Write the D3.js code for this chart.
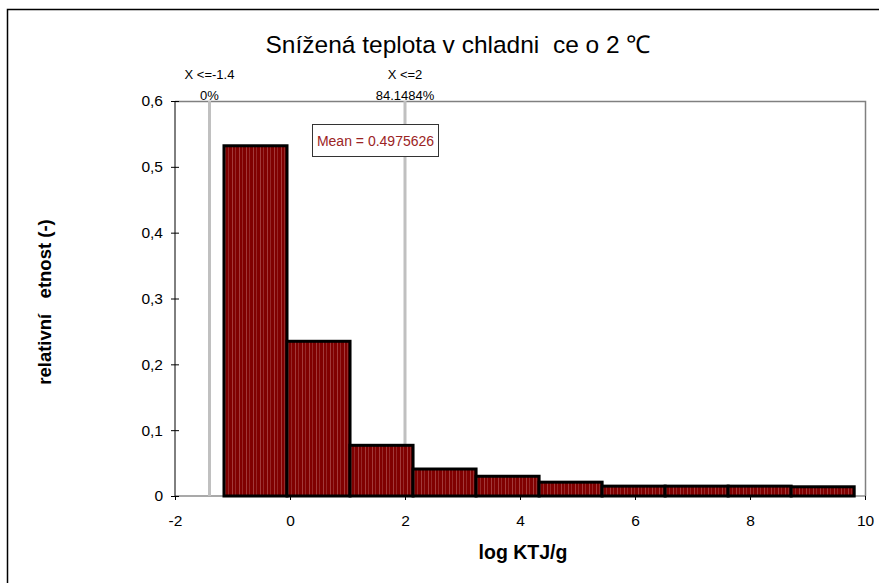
<!DOCTYPE html>
<html>
<head>
<meta charset="utf-8">
<script src="https://cdn.jsdelivr.net/npm/d3@7"></script>
<style>
  html, body { margin: 0; padding: 0; background: #fff; }
  svg { display: block; font-family: "Liberation Sans", Arial, sans-serif; }
  svg text { white-space: pre; }
</style>
</head>
<body>
<svg id="chart" width="879" height="583"></svg>
<script>
// Histogram bin edges (log KTJ/g) and relative frequencies
const binEdges = [-1.148, -0.052, 1.044, 2.14, 3.236, 4.332, 5.428, 6.524, 7.62, 8.716, 9.812];
const frequencies = [0.532, 0.235, 0.077, 0.041, 0.030, 0.021, 0.015, 0.015, 0.015, 0.014];
const xTicks = [-2, 0, 2, 4, 6, 8, 10];
const yTicks = [0, 0.1, 0.2, 0.3, 0.4, 0.5, 0.6];
// Delimiter markers with their cumulative-probability labels
const markerX = [-1.4, 2];
const markerTitle = ["X <=-1.4", "X <=2"];
const markerPct = ["0%", "84.1484%"];
const meanValue = 0.4975626;

const svg = d3.select("#chart");
const plot = { left: 175, right: 865, top: 101, bottom: 496 };

const x = d3.scaleLinear().domain([-2, 10]).range([plot.left, plot.right]);
const y = d3.scaleLinear().domain([0, 0.6]).range([plot.bottom, plot.top]);

// Vertical striped fill for the bars
const defs = svg.append("defs");
const pat = defs.append("pattern")
  .attr("id", "stripes").attr("patternUnits", "userSpaceOnUse")
  .attr("width", 7).attr("height", 10);
pat.append("rect").attr("width", 7).attr("height", 10).attr("fill", "#800000");
pat.append("rect").attr("x", 1).attr("width", 1).attr("height", 10).attr("fill", "#a23a3a");
pat.append("rect").attr("x", 4).attr("width", 1).attr("height", 10).attr("fill", "#952828");

// Outer chart frame
svg.append("rect")
  .attr("x", 7.5).attr("y", 9.5).attr("width", 900).attr("height", 600)
  .attr("fill", "none").attr("stroke", "#000").attr("stroke-width", 1.5);

// Plot area frame (top and right edges)
svg.append("path")
  .attr("d", `M${plot.left},${plot.top + 0.5}H${plot.right + 0.5}V${plot.bottom}`)
  .attr("fill", "none").attr("stroke", "#808080").attr("stroke-width", 1.5);

// Title
svg.append("text")
  .attr("x", 458).attr("y", 53)
  .attr("text-anchor", "middle")
  .attr("font-size", 24.5)
  .attr("fill", "#000")
  .text("Snížená teplota v chladni  ce o 2 ℃");

// Marker lines
markerX.forEach((m, i) => {
  svg.append("line")
    .attr("x1", x(m)).attr("x2", x(m))
    .attr("y1", plot.top).attr("y2", plot.bottom)
    .attr("stroke", "#c0c0c0").attr("stroke-width", 3);
  svg.append("text")
    .attr("x", x(m)).attr("y", 79)
    .attr("text-anchor", "middle").attr("font-size", 13)
    .text(markerTitle[i]);
  svg.append("text")
    .attr("x", x(m)).attr("y", 100)
    .attr("text-anchor", "middle").attr("font-size", 13)
    .text(markerPct[i]);
});

// Bars
const bins = frequencies.map((f, i) => ({ x0: binEdges[i], x1: binEdges[i + 1], v: f }));
svg.append("g").selectAll("rect")
  .data(bins).join("rect")
  .attr("x", d => x(d.x0))
  .attr("y", d => y(d.v))
  .attr("width", d => x(d.x1) - x(d.x0))
  .attr("height", d => y(0) - y(d.v))
  .attr("fill", "url(#stripes)")
  .attr("stroke", "#000")
  .attr("stroke-width", 3);

// Baseline outside bars
svg.append("line")
  .attr("x1", plot.left).attr("x2", plot.right)
  .attr("y1", plot.bottom).attr("y2", plot.bottom)
  .attr("stroke", "#555").attr("stroke-width", 1.2)
  .lower();

// Y axis
const yAxis = d3.axisLeft(y).tickValues(yTicks)
  .tickSize(4)
  .tickFormat(d => d === 0 ? "0" : d3.format(".1f")(d).replace(".", ","));
const yg = svg.append("g").attr("transform", `translate(${plot.left},0)`).call(yAxis);
yg.select(".domain").attr("stroke", "#000").attr("d", `M0,${plot.top}V${plot.bottom}`);
yg.selectAll(".tick line").attr("x1", -4).attr("x2", 4).attr("stroke", "#000");
yg.selectAll(".tick text").attr("x", -12).attr("font-size", 15.5).attr("fill", "#000")
  .attr("font-family", "Liberation Sans, Arial, sans-serif");

// X axis (plain hyphen for negative numbers)
const xAxis = d3.axisBottom(x).tickValues(xTicks).tickSize(4).tickFormat(d => String(d));
const xg = svg.append("g").attr("transform", `translate(0,${plot.bottom})`).call(xAxis);
xg.select(".domain").remove();
xg.selectAll(".tick line").attr("y1", 0).attr("y2", 4).attr("stroke", "#000");
xg.selectAll(".tick text").attr("y", 19).attr("font-size", 15.5).attr("fill", "#000")
  .attr("font-family", "Liberation Sans, Arial, sans-serif");

// Axis titles
svg.append("text")
  .attr("x", 523).attr("y", 559)
  .attr("text-anchor", "middle")
  .attr("font-size", 19.5).attr("font-weight", "bold")
  .text("log KTJ/g");
svg.append("text")
  .attr("transform", "translate(51,302) rotate(-90)")
  .attr("text-anchor", "middle")
  .attr("font-size", 18.5).attr("font-weight", "bold")
  .text("relativní   etnost (-)");

// Mean annotation box
const mb = svg.append("g");
mb.append("rect")
  .attr("x", 312.5).attr("y", 124.5).attr("width", 126).attr("height", 32)
  .attr("fill", "#fff").attr("stroke", "#333").attr("stroke-width", 1);
mb.append("text")
  .attr("x", 375.5).attr("y", 146)
  .attr("text-anchor", "middle").attr("font-size", 14)
  .attr("fill", "#9b2424")
  .text("Mean = " + meanValue);
</script>
</body>
</html>
